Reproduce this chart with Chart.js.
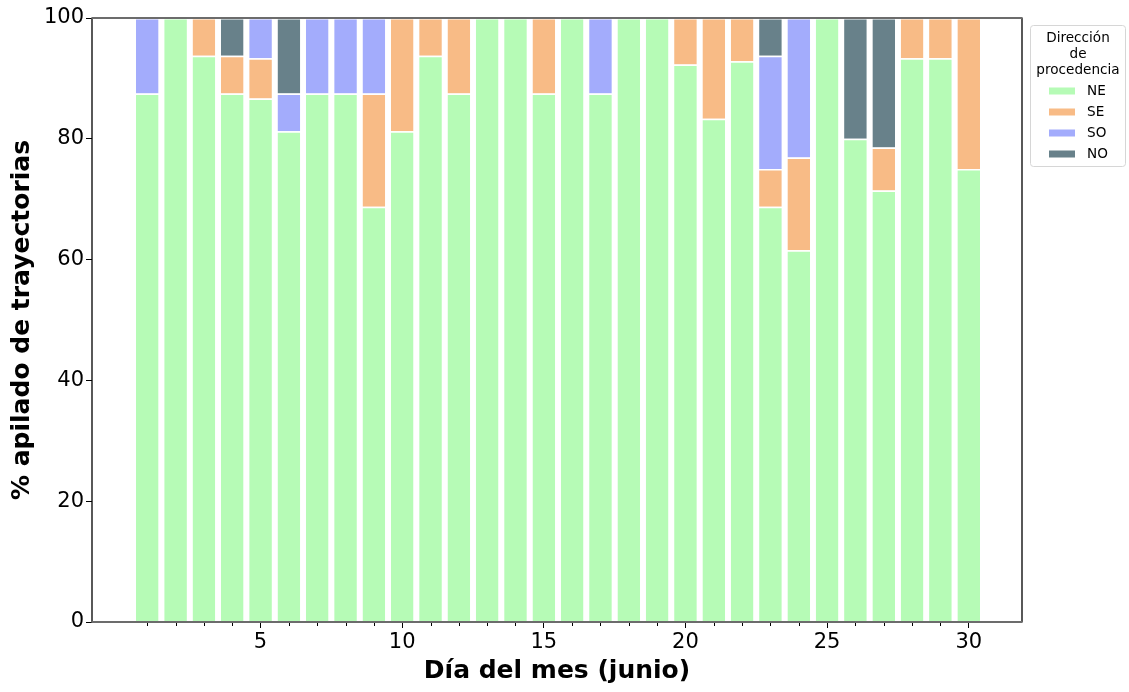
<!DOCTYPE html>
<html>
<head>
<meta charset="utf-8">
<script src="https://cdn.jsdelivr.net/npm/chart.js@4.4.1/dist/chart.umd.min.js"></script>
<style>
  html, body { margin: 0; padding: 0; background: #ffffff; }
  #wrap { width: 1129px; height: 692px; }
</style>
</head>
<body>
<div id="wrap"><canvas id="c" width="1129" height="692"></canvas></div>
<script>
// Días de junio
const days = [1, 2, 3, 4, 5, 6, 7, 8, 9, 10, 11, 12, 13, 14, 15, 16, 17, 18, 19, 20, 21, 22, 23, 24, 25, 26, 27, 28, 29, 30];

// Porcentaje diario de trayectorias por dirección de procedencia
const NE = [87.5, 100, 93.75, 87.5, 86.67, 81.25, 87.5, 87.5, 68.75, 81.25, 93.75, 87.5, 100, 100, 87.5, 100, 87.5, 100, 100, 92.31, 83.33, 92.86, 68.75, 61.54, 100, 80, 71.43, 93.33, 93.33, 75];
const SE = [0, 0, 6.25, 6.25, 6.67, 0, 0, 0, 18.75, 18.75, 6.25, 12.5, 0, 0, 12.5, 0, 0, 0, 0, 7.69, 16.67, 7.14, 6.25, 15.38, 0, 0, 7.14, 6.67, 6.67, 25];
const SO = [12.5, 0, 0, 0, 6.67, 6.25, 12.5, 12.5, 12.5, 0, 0, 0, 0, 0, 0, 0, 12.5, 0, 0, 0, 0, 0, 18.75, 23.08, 0, 0, 0, 0, 0, 0];
const NO = [0, 0, 0, 6.25, 0, 12.5, 0, 0, 0, 0, 0, 0, 0, 0, 0, 0, 0, 0, 0, 0, 0, 0, 6.25, 0, 0, 20, 21.43, 0, 0, 0];

const seriesNames = ['NE', 'SE', 'SO', 'NO'];
const seriesColors = ['#b6fbb6', '#f8bb86', '#a3acfc', '#68818a'];
const seriesValues = [NE, SE, SO, NO];

const xMajorTicks = [5, 10, 15, 20, 25, 30];
const yTicks = [0, 20, 40, 60, 80, 100];
const legendTitle = ['Dirección', 'de', 'procedencia'];

const FONT = "'DejaVu Sans', 'Liberation Sans', sans-serif";

const datasets = seriesNames.map((name, k) => ({
  label: name,
  data: days.map((d, i) => ({ x: d, y: seriesValues[k][i] === 0 ? null : seriesValues[k][i] })),
  backgroundColor: seriesColors[k],
  borderColor: '#ffffff',
  borderWidth: { top: 1.5, left: 0, right: 0, bottom: 0 },
  borderSkipped: false,
  barPercentage: 0.8,
  categoryPercentage: 1.0
}));

// Spines, minor ticks and legend box
const decorations = {
  id: 'decorations',
  afterDraw(chart) {
    const ctx = chart.ctx;
    const a = chart.chartArea;
    const xs = chart.scales.x;
    ctx.save();

    // minor ticks on every day
    ctx.strokeStyle = '#000';
    ctx.lineWidth = 1;
    days.forEach(d => {
      if (xMajorTicks.includes(d)) return;
      const px = Math.round(xs.getPixelForValue(d)) + 0.5;
      ctx.beginPath();
      ctx.moveTo(px, a.bottom);
      ctx.lineTo(px, a.bottom + 4);
      ctx.stroke();
    });

    // frame
    ctx.lineWidth = 1.3;
    ctx.strokeStyle = '#000';
    ctx.beginPath();
    ctx.moveTo(a.left, a.top); ctx.lineTo(a.left, a.bottom);
    ctx.moveTo(a.right, a.top); ctx.lineTo(a.right, a.bottom);
    ctx.stroke();
    ctx.lineWidth = 2;
    ctx.strokeStyle = '#6c6c6c';
    ctx.beginPath();
    ctx.moveTo(a.left - 0.6, a.top); ctx.lineTo(a.right + 0.6, a.top);
    ctx.moveTo(a.left - 0.6, a.bottom); ctx.lineTo(a.right + 0.6, a.bottom);
    ctx.stroke();

    // legend
    const lx = 1030.5, ly = 25.5, lw = 95, lh = 141;
    ctx.fillStyle = 'rgba(255,255,255,0.8)';
    ctx.strokeStyle = '#d6d6d6';
    ctx.lineWidth = 1;
    ctx.beginPath();
    ctx.roundRect(lx, ly, lw, lh, 3);
    ctx.fill();
    ctx.stroke();

    ctx.fillStyle = '#000';
    ctx.font = '13.6px ' + FONT;
    ctx.textAlign = 'center';
    ctx.textBaseline = 'middle';
    const titleY = [38, 54, 70];
    legendTitle.forEach((t, i) => ctx.fillText(t, 1078, titleY[i]));

    const rowY = [91, 112, 133, 154];
    chart.data.datasets.forEach((ds, i) => {
      ctx.fillStyle = ds.backgroundColor;
      ctx.fillRect(1049, rowY[i] - 3.5, 26, 7);
      ctx.fillStyle = '#000';
      ctx.textAlign = 'left';
      ctx.fillText(ds.label, 1087, rowY[i] + 0.5);
    });
    ctx.restore();
  }
};

new Chart(document.getElementById('c').getContext('2d'), {
  type: 'bar',
  data: { datasets },
  options: {
    responsive: false,
    animation: false,
    events: [],
    layout: { padding: { left: 0, top: 18, right: 107, bottom: 0 } },
    plugins: {
      legend: { display: false },
      tooltip: { enabled: false }
    },
    scales: {
      x: {
        type: 'linear',
        stacked: true,
        offset: false,
        min: -0.95,
        max: 31.88,
        afterBuildTicks: s => { s.ticks = xMajorTicks.map(v => ({ value: v })); },
        afterFit: s => { s.height = 70; },
        ticks: {
          autoSkip: false,
          maxRotation: 0,
          padding: 2,
          color: '#000',
          font: { family: FONT, size: 21 },
          callback: v => String(v)
        },
        grid: { display: true, offset: false, drawOnChartArea: false, drawTicks: true, tickLength: 6, tickColor: '#000', tickWidth: 1 },
        border: { display: false },
        title: {
          display: true,
          text: 'Día del mes (junio)',
          color: '#000',
          font: { family: FONT, size: 25, weight: 'bold' },
          padding: { top: 0, bottom: 6 }
        }
      },
      y: {
        stacked: true,
        min: 0,
        max: 100,
        afterBuildTicks: s => { s.ticks = yTicks.map(v => ({ value: v })); },
        afterFit: s => { s.width = 92; },
        ticks: {
          padding: 2,
          color: '#000',
          font: { family: FONT, size: 21 },
          callback: v => String(v)
        },
        grid: { display: true, drawOnChartArea: false, drawTicks: true, tickLength: 6, tickColor: '#000', tickWidth: 1 },
        border: { display: false },
        title: {
          display: true,
          text: '% apilado de trayectorias',
          color: '#000',
          font: { family: FONT, size: 25, weight: 'bold' },
          padding: { top: 7, bottom: 0 }
        }
      }
    }
  },
  plugins: [decorations]
});
</script>
</body>
</html>
